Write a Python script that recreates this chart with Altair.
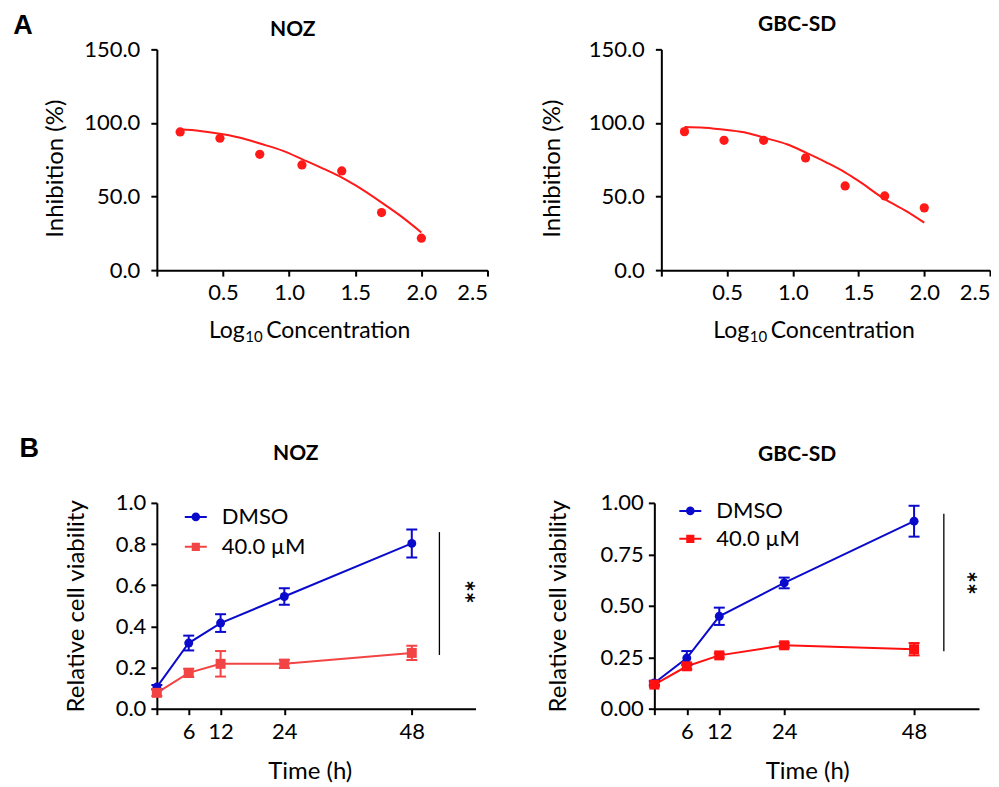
import altair as alt
import pandas as pd

FONT = "Lato"
LETTER_FONT = "Liberation Sans"
RED_A = "#ff1a1a"
BLUE = "#0a0acd"
RED_NOZ = "#f24444"
RED_GBC = "#ff1010"

panel_letters = ["A", "B"]
panel_titles = ["NOZ", "GBC-SD"]
a_xtitle_parts = ["Log", "10", "Concentration"]

# ---------------- Panel A: dose-response ----------------
log_conc = [0.176, 0.477, 0.778, 1.097, 1.398, 1.699, 2.000]
noz_inhibition = [93.9, 89.6, 78.7, 71.5, 67.4, 39.1, 21.7]
gbc_inhibition = [94.1, 88.2, 88.2, 76.2, 57.2, 50.4, 42.3]

fit_x = [0.176, 0.327, 0.5, 0.653, 0.78, 0.955, 1.1, 1.257, 1.4, 1.5, 1.7, 1.86, 2.0]
noz_fit = [95.7, 94.6, 92.3, 89.4, 86.0, 81.0, 75.3, 69.0, 62.9, 57.7, 45.9, 35.7, 25.6]
gbc_fit = [97.3, 96.8, 95.2, 93.2, 90.0, 85.5, 79.8, 73.1, 66.3, 60.6, 48.2, 40.3, 32.3]

a_x_ticks = [0, 0.5, 1.0, 1.5, 2.0, 2.5]
a_y_ticks = [0, 50, 100, 150]

# ---------------- Panel B: time course ----------------
series_names = ["DMSO", "40.0 µM"]
times = [0, 6, 12, 24, 48]
b_x_ticks = [0, 6, 12, 24, 48]

noz_dmso = [0.105, 0.319, 0.416, 0.545, 0.803]
noz_dmso_err = [0.010, 0.036, 0.043, 0.040, 0.068]
noz_drug = [0.077, 0.174, 0.218, 0.218, 0.271]
noz_drug_err = [0.015, 0.020, 0.062, 0.020, 0.035]

gbc_dmso = [0.125, 0.246, 0.449, 0.611, 0.911]
gbc_dmso_err = [0.010, 0.034, 0.042, 0.026, 0.075]
gbc_drug = [0.117, 0.206, 0.259, 0.308, 0.289]
gbc_drug_err = [0.010, 0.015, 0.010, 0.012, 0.030]

noz_y_ticks = [0, 0.2, 0.4, 0.6, 0.8, 1.0]
gbc_y_ticks = [0, 0.25, 0.5, 0.75, 1.0]

# significance bracket (time position, low, high) and star position
sig_time = [53.2, 53.5]
sig_low = [0.261, 0.279]
sig_high = [0.858, 0.947]
star_time = [57.4, 57.2]
star_value = [0.568, 0.611]

CIRCLE_LINE = "M-1,0L1,0M0.3,0A0.3,0.3,0,1,1,-0.3,0A0.3,0.3,0,1,1,0.3,0Z"
SQUARE_LINE = "M-1,0L1,0M-0.28,-0.28L0.28,-0.28L0.28,0.28L-0.28,0.28Z"

TICK_FS = 22
TITLE_FS = 24


def text_layer(label, x, y, font, size, bold=True, align="center"):
    return alt.Chart(pd.DataFrame({"label": [label]})).mark_text(
        font=font, fontSize=size, fontWeight="bold" if bold else "normal",
        baseline="alphabetic", align=align, color="black"
    ).encode(text="label:N", x=alt.value(x), y=alt.value(y))


def dose_panel(idx, inh, fit, width, height, title_x, title_y, ytitle_x, letter=None):
    pts = pd.DataFrame({"x": log_conc, "y": inh})
    crv = pd.DataFrame({"x": fit_x, "y": fit})
    X = alt.X("x:Q", scale=alt.Scale(domain=[0, 2.5], nice=False),
              axis=alt.Axis(values=a_x_ticks,
                            labelExpr="datum.value == 0 ? '' : format(datum.value, '.1f')",
                            title=None, labelPadding=6, labelFontSize=TICK_FS))
    Y = alt.Y("y:Q", scale=alt.Scale(domain=[0, 150], nice=False),
              axis=alt.Axis(values=a_y_ticks, format=".1f", title="Inhibition (%)",
                            titleX=ytitle_x, titleY=119, titleBaseline="alphabetic",
                            labelPadding=11, labelFontSize=TICK_FS, titleFontSize=TITLE_FS))
    line = alt.Chart(crv).mark_line(color=RED_A, strokeWidth=2, interpolate="monotone").encode(x=X, y=Y)
    points = alt.Chart(pts).mark_circle(color=RED_A, size=85, opacity=1).encode(x=X, y=Y)
    xt = [
        text_layer(a_xtitle_parts[0], 88, 288.7, FONT, 23, bold=False, align="right"),
        text_layer(a_xtitle_parts[1], 88.5, 293, FONT, 15, bold=False, align="left"),
        text_layer(a_xtitle_parts[2], 109.5, 288.7, FONT, 23, bold=False, align="left"),
    ]
    layers = [line, points] + xt + [text_layer(panel_titles[idx], title_x, title_y, FONT, 21)]
    if letter is not None:
        layers.append(text_layer(letter[0], letter[1], letter[2], LETTER_FONT, 27, align="left"))
    return alt.layer(*layers).properties(width=width, height=height)


def time_panel(idx, dmso, dmso_err, drug, drug_err, red, width, height, yticks, yfmt,
               ytitle_x, title_x, title_y, legend_x, legend_y, row_pad, letter=None):
    n = len(times)
    df = pd.DataFrame({
        "time": times * 2,
        "value": dmso + drug,
        "err": dmso_err + drug_err,
        "series": [series_names[0]] * n + [series_names[1]] * n,
    })
    df["lo"] = df["value"] - df["err"]
    df["hi"] = df["value"] + df["err"]

    X = alt.X("time:Q", scale=alt.Scale(domain=[0, 60], nice=False),
              axis=alt.Axis(values=b_x_ticks,
                            labelExpr="datum.value == 0 ? '' : format(datum.value, 'd')",
                            title="Time (h)", titleX=153, titleY=70,
                            titleBaseline="alphabetic", labelPadding=7,
                            labelFontSize=TICK_FS, titleFontSize=TITLE_FS))
    yaxis = alt.Axis(values=yticks, format=yfmt, title="Relative cell viability",
                     titleX=ytitle_x, titleY=height / 2, titleBaseline="alphabetic",
                     labelPadding=5, labelFontSize=TICK_FS, titleFontSize=TITLE_FS)
    yscale = alt.Scale(domain=[0, 1.0], nice=False)
    Y = alt.Y("value:Q", scale=yscale, axis=yaxis)
    colors = [BLUE, red]
    cscale = alt.Scale(domain=series_names, range=colors)
    C = alt.Color("series:N", scale=cscale, legend=None)

    base = alt.Chart(df)
    leg = alt.Legend(orient="none", legendX=legend_x, legendY=legend_y, title=None,
                     symbolSize=484, symbolStrokeWidth=2, symbolOpacity=1,
                     labelFont=FONT, labelFontSize=22, labelColor="black",
                     labelOffset=14, rowPadding=row_pad, padding=0)
    legend_layer = base.transform_filter("false").mark_point(filled=True, opacity=1).encode(
        x=X, y=Y,
        color=alt.Color("series:N", scale=cscale, legend=leg),
        stroke=alt.Stroke("series:N", scale=alt.Scale(domain=series_names, range=colors), legend=leg),
        shape=alt.Shape("series:N", scale=alt.Scale(domain=series_names, range=[CIRCLE_LINE, SQUARE_LINE]), legend=leg),
    )
    lines = base.mark_line(strokeWidth=2).encode(x=X, y=Y, color=C, detail="series:N")
    rules = base.mark_rule(strokeWidth=2).encode(
        x=X, y=alt.Y("lo:Q", scale=yscale, axis=yaxis), y2="hi:Q", color=C)
    caps_lo = base.mark_tick(orient="horizontal", size=11, thickness=2, opacity=1).encode(
        x=X, y=alt.Y("lo:Q", scale=yscale, axis=yaxis), color=C)
    caps_hi = base.mark_tick(orient="horizontal", size=11, thickness=2, opacity=1).encode(
        x=X, y=alt.Y("hi:Q", scale=yscale, axis=yaxis), color=C)
    dots = base.transform_filter(alt.datum.series == series_names[0]).mark_circle(
        size=80, opacity=1).encode(x=X, y=Y, color=C)
    squares = base.transform_filter(alt.datum.series == series_names[1]).mark_square(
        size=100, opacity=1).encode(x=X, y=Y, color=C)

    sig_df = pd.DataFrame({"time": [sig_time[idx]], "lo": [sig_low[idx]], "hi": [sig_high[idx]]})
    sig = alt.Chart(sig_df).mark_rule(color="black", strokeWidth=1.3).encode(
        x=X, y=alt.Y("lo:Q", scale=yscale, axis=yaxis), y2="hi:Q")
    star_df = pd.DataFrame({"time": [star_time[idx]], "value": [star_value[idx]], "t": ["**"]})
    stars = alt.Chart(star_df).mark_text(font=FONT, fontSize=28, fontWeight="bold", angle=90,
                                         color="black", baseline="middle", align="center").encode(
        x=X, y=Y, text="t:N")

    layers = [legend_layer, lines, rules, caps_lo, caps_hi, dots, squares, sig, stars,
              text_layer(panel_titles[idx], title_x, title_y, FONT, 21)]
    if letter is not None:
        layers.append(text_layer(letter[0], letter[1], letter[2], LETTER_FONT, 27, align="left"))
    return alt.layer(*layers).properties(width=width, height=height)


a_left = dose_panel(0, noz_inhibition, noz_fit, 331, 221, 136, -13, -94,
                    letter=(panel_letters[0], -143.7, -15.3))
a_right = dose_panel(1, gbc_inhibition, gbc_fit, 329, 221, 136, -18, -102)

b_left = time_panel(0, noz_dmso, noz_dmso_err, noz_drug, noz_drug_err, RED_NOZ, 319, 206,
                    noz_y_ticks, ".1f", -73, 139, -43, 27, 2, 7,
                    letter=(panel_letters[1], -137.6, -46))
b_right = time_panel(1, gbc_dmso, gbc_dmso_err, gbc_drug, gbc_drug_err, RED_GBC, 325, 206,
                     gbc_y_ticks, ".2f", -89, 143, -42, 24, -4, 5)

row_a = alt.hconcat(a_left, a_right, spacing=174, bounds="flush")
row_b = alt.hconcat(b_left, b_right, spacing=179, bounds="flush").resolve_scale(
    color="independent", stroke="independent", shape="independent"
).resolve_legend(color="independent", stroke="independent", shape="independent")

chart = alt.vconcat(row_a, row_b, spacing=454, bounds="flush").resolve_scale(
    color="independent", stroke="independent", shape="independent"
).resolve_legend(color="independent", stroke="independent", shape="independent").properties(
    padding={"left": 5, "top": 3, "right": 0, "bottom": 0}
).configure_view(stroke=None).configure_axis(
    domainColor="black", domainWidth=2, tickColor="black", tickWidth=2, tickSize=6,
    labelColor="black", titleColor="black", labelFont=FONT, titleFont=FONT,
    titleFontWeight="normal", grid=False
)

chart.save("out.html", embed_options={"renderer": "svg", "actions": False})
